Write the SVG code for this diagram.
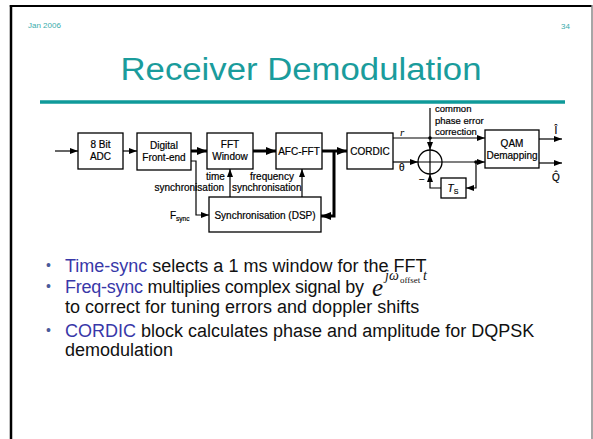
<svg xmlns="http://www.w3.org/2000/svg" width="593" height="439" viewBox="0 0 593 439">
<defs>
<style>
.box{fill:#fff;stroke:#000;stroke-width:1.3}
.ln{fill:none;stroke:#000;stroke-width:1.2}
.thk{fill:none;stroke:#000;stroke-width:3}
.lbl{font-family:"Liberation Sans",Arial,sans-serif;font-size:10px;fill:#000;stroke:#000;stroke-width:0.2}
.sm{font-size:9.5px}
.ctr{text-anchor:middle}
.body{font-family:"Liberation Sans",Arial,sans-serif;font-size:18px;fill:#111}
.hl{fill:#3838a8}
.bul{font-family:"Liberation Sans",Arial,sans-serif;font-size:14px;fill:#4a5a9a}
.math{font-family:"Liberation Serif","Times New Roman",serif;font-style:italic;fill:#111}
.hdr{font-family:"Liberation Sans",Arial,sans-serif;font-size:8px;fill:#3aacac}
</style>
<marker id="a" viewBox="0 0 8 6" refX="8" refY="3" markerWidth="8" markerHeight="6" orient="auto" markerUnits="userSpaceOnUse"><path d="M0,0L8,3L0,6z"/></marker>
<marker id="b" viewBox="0 0 10 8" refX="10" refY="4" markerWidth="10" markerHeight="8" orient="auto" markerUnits="userSpaceOnUse"><path d="M0,0L10,4L0,8z"/></marker>
</defs>
<rect width="593" height="439" fill="#fff"/>
<g id="frame">
<line x1="11" y1="5" x2="11" y2="439" stroke="#000" stroke-width="2.5"/>
<line x1="9.8" y1="6" x2="592" y2="6" stroke="#000" stroke-width="2"/>
<line x1="592" y1="5" x2="592" y2="439" stroke="#888" stroke-width="1.5"/>
</g>
<g id="header">
<text class="hdr" x="28" y="28">Jan 2006</text>
<text class="hdr" x="570" y="29" text-anchor="end">34</text>
<text x="301" y="80" text-anchor="middle" font-family="'Liberation Sans',Arial,sans-serif" font-size="31" fill="#1a9c9c" textLength="361" lengthAdjust="spacingAndGlyphs">Receiver Demodulation</text>
<line x1="40" y1="102" x2="565" y2="102" stroke="#0f9a9a" stroke-width="3.4"/>
</g>
<g id="connectors">
<path class="ln" d="M55,151H78" marker-end="url(#a)"/>
<path class="ln" d="M123,151H137" marker-end="url(#a)"/>
<path class="thk" d="M191,151H207" marker-end="url(#b)"/>
<path class="thk" d="M253,151H276" marker-end="url(#b)"/>
<path class="thk" d="M322,151H347" marker-end="url(#b)"/>
<path class="thk" d="M334,151V216H321" marker-end="url(#b)"/>
<path class="ln" d="M191,161H196V215H209" marker-end="url(#a)"/>
<path class="ln" d="M230,197V169" marker-end="url(#a)"/>
<path class="ln" d="M302,197V169" marker-end="url(#a)"/>
<path class="ln" d="M393,138H485" marker-end="url(#a)"/>
<path class="ln" d="M393,162H418" marker-end="url(#a)"/>
<path class="ln" d="M430,108V150" marker-end="url(#a)"/>
<path class="ln" d="M442,162H485" marker-end="url(#a)"/>
<path class="ln" d="M476,162V188H466" marker-end="url(#a)"/>
<path class="ln" d="M441,188H430V174" marker-end="url(#a)"/>
<path class="ln" d="M539,139H562" marker-end="url(#a)"/>
<path class="ln" d="M539,163H562" marker-end="url(#a)"/>
<circle cx="430" cy="138" r="1.8"/>
<circle cx="476" cy="162" r="1.8"/>
<text class="lbl" x="206" y="180">time</text>
<text class="lbl" x="224" y="191" text-anchor="end">synchronisation</text>
<text class="lbl" x="250" y="180">frequency</text>
<text class="lbl" x="232" y="191">synchronisation</text>
<text class="lbl" x="170" y="219">F<tspan font-size="6.5" dy="2">sync</tspan></text>
<text x="400" y="136" font-family="'Liberation Serif',serif" font-style="italic" font-size="11">r</text>
<text class="lbl" x="399" y="171">θ</text>
<text class="lbl" x="419" y="183" font-size="11">−</text>
<text class="lbl sm" x="435" y="112">common</text>
<text class="lbl sm" x="435" y="123.5">phase error</text>
<text class="lbl sm" x="435" y="135">correction</text>
<text class="lbl ctr" x="556" y="134" font-size="11">Î</text>
<text class="lbl ctr" x="556" y="181" font-size="11">Q̂</text>
</g>
<g id="adc"><rect class="box" x="78" y="133" width="45" height="36"/>
<text class="lbl ctr" x="100.5" y="148">8 Bit</text><text class="lbl ctr" x="100.5" y="160">ADC</text></g>
<g id="dfe"><rect class="box" x="137" y="133" width="54" height="37"/>
<text class="lbl ctr" x="164" y="149">Digital</text><text class="lbl ctr" x="164" y="161">Front-end</text></g>
<g id="fftwin"><rect class="box" x="207" y="133" width="46" height="36"/>
<text class="lbl ctr" x="230" y="148">FFT</text><text class="lbl ctr" x="230" y="160">Window</text></g>
<g id="afcfft"><rect class="box" x="276" y="133" width="46" height="36"/>
<text class="lbl ctr" x="299" y="155">AFC-FFT</text></g>
<g id="cordic"><rect class="box" x="347" y="133" width="46" height="36"/>
<text class="lbl ctr" x="370" y="155">CORDIC</text></g>
<g id="sync"><rect class="box" x="209" y="197" width="112" height="35"/>
<text class="lbl ctr" x="265" y="219">Synchronisation (DSP)</text></g>
<g id="adder"><circle class="box" cx="430" cy="162" r="12"/>
<path class="ln" d="M418,162H442M430,150V174"/></g>
<g id="ts"><rect class="box" x="441" y="178" width="25" height="20"/>
<text class="lbl ctr" x="453" y="192" font-size="11"><tspan font-style="italic">T</tspan><tspan font-size="7" dy="2">S</tspan></text></g>
<g id="qam"><rect class="box" x="485" y="130" width="54" height="38"/>
<text class="lbl ctr" x="512" y="147">QAM</text><text class="lbl ctr" x="512" y="159">Demapping</text></g>
<g id="bullets">
<text class="bul" x="46" y="270">•</text>
<text class="body" x="65" y="271.5"><tspan class="hl">Time-sync</tspan> selects a 1 ms window for the FFT</text>
<text class="bul" x="46" y="291">•</text>
<text class="body" x="65" y="292.5" textLength="299"><tspan class="hl">Freq-sync</tspan> multiplies complex signal by</text>
<text class="math" x="372" y="296" font-size="25">e</text>
<text class="math" x="385" y="280" font-size="14">jω</text>
<text x="400" y="283" font-family="'Liberation Serif',serif" font-size="9" fill="#111">offset</text>
<text class="math" x="423" y="280" font-size="14">t</text>
<text class="body" x="65" y="312.5">to correct for tuning errors and doppler shifts</text>
<text class="bul" x="46" y="335">•</text>
<text class="body" x="65" y="336.5"><tspan class="hl">CORDIC</tspan> block calculates phase and amplitude for DQPSK</text>
<text class="body" x="65" y="355.5">demodulation</text>
</g>
</svg>
